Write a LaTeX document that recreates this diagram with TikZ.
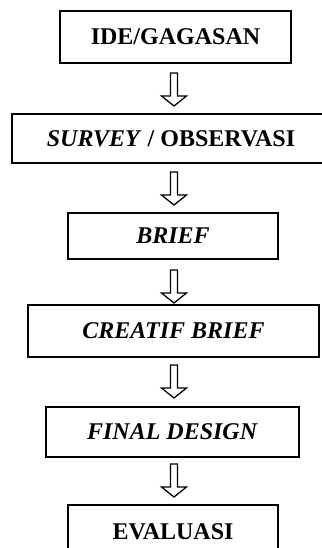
\documentclass[tikz,border=0pt]{standalone}
\usepackage{fontspec}
\setmainfont{Liberation Serif}
\usetikzlibrary{calc}
\tikzset{
  stagebox/.style={draw=black, line width=2.5pt, inner sep=0pt, font=\fontsize{24}{28}\selectfont\bfseries},
  blockarrow/.pic={\draw[line width=1.3pt, line join=miter, fill=white]
    (-3.5,0) -- (3.5,0) -- (3.5,-23) -- (12.5,-23) -- (0,-33) -- (-12.5,-23) -- (-3.5,-23) -- cycle;}
}
\begin{document}
\begin{tikzpicture}[x=1pt,y=1pt]
\useasboundingbox (0,0) rectangle (321,-548);
\node[stagebox, minimum width=231pt, minimum height=52pt] (b1) at (175.5,-37) {IDE/GAGASAN};
\node[stagebox, minimum width=318pt, minimum height=49pt] (b2) at (171,-138.5) {\textit{SURVEY} / OBSERVASI};
\node[stagebox, minimum width=210pt, minimum height=46pt] (b3) at (173,-236) {\textit{BRIEF}};
\node[stagebox, minimum width=291pt, minimum height=52pt] (b4) at (173.5,-331) {\textit{CREATIF BRIEF}};
\node[stagebox, minimum width=253pt, minimum height=50pt] (b5) at (172.5,-432) {\textit{FINAL DESIGN}};
\node[stagebox, minimum width=210pt, minimum height=53pt] (b6) at (173,-531.5) {EVALUASI};
\coordinate (a1) at (174,-73);
\coordinate (a2) at (174,-172);
\coordinate (a3) at (174,-270);
\coordinate (a4) at (174,-365);
\coordinate (a5) at (174,-464);
\foreach \c in {a1,a2,a3,a4,a5} { \pic at (\c) {blockarrow}; }
\end{tikzpicture}
\end{document}
